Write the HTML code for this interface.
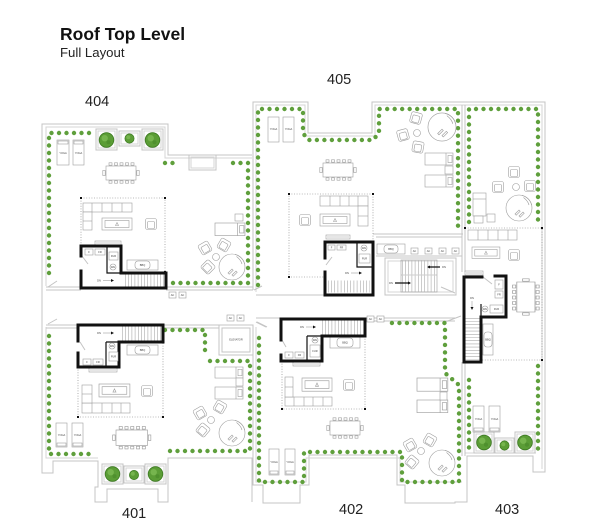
<!DOCTYPE html>
<html><head><meta charset="utf-8"><style>
html,body{margin:0;padding:0;background:#fff;}
svg{display:block}
.d{fill:none;stroke:#5f9f3c;stroke-width:4.4;stroke-linecap:round;stroke-dasharray:0 7.5}
.w{fill:none;stroke:#c4c4c4;stroke-width:1}
.w2{fill:none;stroke:#d4d4d4;stroke-width:1}
.f{fill:#fff;stroke:#9d9d9d;stroke-width:.6}
.fl{fill:none;stroke:#9d9d9d;stroke-width:.6}
.b{fill:none;stroke:#111;stroke-width:3;stroke-linecap:square}
.bt{fill:none;stroke:#111;stroke-width:1.2}
.dot{fill:none;stroke:#777;stroke-width:.6;stroke-dasharray:1 1.6}
.tr{fill:none;stroke:#aaa;stroke-dasharray:.6 2.6}
.t{font-family:"Liberation Sans",sans-serif;fill:#444;font-size:2.6px;text-anchor:middle}
</style></head><body>
<svg width="600" height="532" viewBox="0 0 600 532" xmlns="http://www.w3.org/2000/svg">
<defs>
 <g id="chair"><rect x="-5.5" y="-5.5" width="11" height="11" rx="2" class="f"/><rect x="-3.5" y="-2.5" width="7" height="7" rx="1" class="fl"/></g>
 <g id="tree"><circle r="7.3" fill="#5b9d36" stroke="#3d7a22" stroke-width=".8"/><circle cx="-1.8" cy="-1.8" r="3.2" fill="#82bf58" opacity=".7"/><circle cx="2" cy="2.2" r="2" fill="#4a8a2b" opacity=".7"/></g>
 <g id="stree"><circle r="4.6" fill="#5b9d36" stroke="#3d7a22" stroke-width=".7"/><circle cx="-1.2" cy="-1.2" r="2" fill="#82bf58" opacity=".7"/></g>
 <g id="tub"><circle r="13" class="f" stroke-width=".7"/><path d="M3 -12.6 A13 13 0 0 1 12.6 -3" class="fl"/><path d="M4.5 -10.5 Q9 -7 10 -3" class="fl"/><path d="M-4 6 l4 -4 l1.2 1.2 l-4 4z M0 8 l4 -4 l1.2 1.2 l-4 4z" class="fl"/></g>
 <g id="dine"><rect x="0" y="0" width="30" height="14" class="f"/>
  <g class="f"><rect x="3" y="-3.2" width="3" height="2.4"/><rect x="8.5" y="-3.2" width="3" height="2.4"/><rect x="14" y="-3.2" width="3" height="2.4"/><rect x="19.5" y="-3.2" width="3" height="2.4"/><rect x="25" y="-3.2" width="3" height="2.4"/>
  <rect x="3" y="14.8" width="3" height="2.4"/><rect x="8.5" y="14.8" width="3" height="2.4"/><rect x="14" y="14.8" width="3" height="2.4"/><rect x="19.5" y="14.8" width="3" height="2.4"/><rect x="25" y="14.8" width="3" height="2.4"/>
  <rect x="-3.2" y="4.5" width="2.4" height="5"/><rect x="30.8" y="4.5" width="2.4" height="5"/></g></g>
 <g id="ctab"><rect width="30" height="12" class="f"/><rect x="3" y="2.5" width="24" height="7" class="fl"/><path d="M13.5 7.5 L15 4.5 L16.5 7.5Z" class="fl"/></g>
 <g id="lng"><rect width="28" height="12" class="f"/><line x1="21" y1="0" x2="21" y2="12" class="fl"/><rect x="23" y="2.5" width="4" height="7" class="fl"/></g>
 <g id="ac"><rect width="7" height="6" class="f"/></g>
</defs>

<!-- Titles -->
<text x="60" y="40" font-family="Liberation Sans, sans-serif" font-weight="bold" font-size="17.5" fill="#111">Roof Top Level</text>
<text x="60" y="57" font-family="Liberation Sans, sans-serif" font-size="13.2" fill="#222">Full Layout</text>
<g font-family="Liberation Sans, sans-serif" font-size="14.5" fill="#222">
<text x="85" y="106">404</text>
<text x="327" y="84">405</text>
<text x="122" y="518">401</text>
<text x="339" y="514">402</text>
<text x="495" y="514">403</text>
</g>

<!-- WALLS -->
<path class="w" d="M252 155 H168 V124 H42 V473 H53 V461 H98 V487 H95 V502 H107 V489 H158 V502 H168 V458 H252 V502"/>
<path class="w2" d="M252 158 H165 V127 H46 V286 M46 327 V458 H98"/>
<path class="w" d="M253 290 V102 H308 V133 H372 V102 H545 V472 H533 V456 H467 V502 H455 V503 H405 V485 H397 V455 H309 V485 H300 V503 H263 V485 H253 V325"/>
<path class="w2" d="M256 292 V105 H305 V136 H375 V105 H542 V469 M536 453 H465 M256 327 V482 H306 V458 H400 V482 H462"/>
<path class="w" d="M462 105 V272 M465 105 V228 M462 362 V456 M465 362 V456"/>
<path class="w" d="M46 287 H81 M166 287 H253 M46 290 H81 M166 290 H253"/>
<path class="w" d="M46 325 H78 M163 325 H219 M253 325 H253 M46 328 H78 M163 328 H219"/>
<path class="w" d="M256 295 H325 M256 318 H281 M365 318 H455 M365 321 H455"/>
<path class="w" d="M373 234 H463 M376 237 H462 M376 256 H462 M373 242 V295"/>
<rect x="385" y="258" width="71" height="37" class="w"/>
<rect x="388" y="261" width="65" height="31" class="w2"/>
<path class="w" d="M465 228 V272 M545 228 V472"/>
<!-- door swings -->
<path class="w" d="M48 287 L57 281 M254 290 L262 286 M48 324 L57 319 M257 322 L267 327 M441 287 L455 293 M445 322 L461 316 M483 277 L492 284 M82 256 L88 264 M80 342 L85 350 M326 265 L332 257 M282 340 L286 347 M256 322 L266 327"/>

<!-- window bench 404 -->
<rect x="189" y="155" width="27" height="15" class="w"/>
<rect x="191" y="157" width="23" height="11" class="w2"/>

<!-- GREEN DOTS -->
<path class="d" d="M89 133 H49 V275"/>
<path class="d" d="M165 163 H173"/>
<path class="d" d="M233 163 H248 V283 H172"/>
<path class="d" d="M258 285 V109 H303 V133 L308 140 H373 L379 133 V109 H458 V230"/>
<path class="d" d="M469 222 V109 H538 V227"/>
<path class="d" d="M538 366 V450"/>
<path class="d" d="M469 380 V450"/>
<path class="d" d="M49 336 V454 H95"/>
<path class="d" d="M165 330 H205 V355"/>
<path class="d" d="M210 361 H250 V451 H167"/>
<path class="d" d="M259 338 V482 H304 V452 H395 L402 452 V482 H459 V385 L452 379 L445 373 V323 H390"/>

<!-- PLANTERS -->
<g>
<rect x="96" y="129" width="21" height="21" class="w"/><rect x="98" y="131" width="17" height="17" class="w2"/><use href="#tree" x="106.5" y="140"/>
<rect x="119" y="131" width="21" height="15" class="w"/><rect x="121" y="133" width="17" height="11" class="w2"/><use href="#stree" x="129.5" y="138.5"/>
<rect x="142" y="129" width="21" height="21" class="w"/><rect x="144" y="131" width="17" height="17" class="w2"/><use href="#tree" x="152.5" y="140"/>

<rect x="102" y="464" width="21" height="20" class="w"/><rect x="104" y="466" width="17" height="16" class="w2"/><use href="#tree" x="112.5" y="474"/>
<rect x="124" y="466" width="20" height="17" class="w"/><rect x="126" y="468" width="16" height="13" class="w2"/><use href="#stree" x="134" y="475"/>
<rect x="145" y="464" width="21" height="20" class="w"/><rect x="147" y="466" width="17" height="16" class="w2"/><use href="#tree" x="155.5" y="474"/>

<rect x="474" y="432" width="20" height="21" class="w"/><rect x="476" y="434" width="16" height="17" class="w2"/><use href="#tree" x="484" y="442.5"/>
<rect x="495" y="438" width="19" height="15" class="w"/><rect x="497" y="440" width="15" height="11" class="w2"/><use href="#stree" x="504.5" y="445.5"/>
<rect x="515" y="432" width="20" height="21" class="w"/><rect x="517" y="434" width="16" height="17" class="w2"/><use href="#tree" x="525" y="442.5"/>
</g>

<!-- YOGA MATS -->
<g>
<rect x="57" y="140" width="12" height="25" class="f"/><rect x="58" y="141" width="10" height="3" class="fl"/><text x="63" y="154" class="t">YOGA</text>
<rect x="73" y="140" width="11" height="25" class="f"/><rect x="74" y="141" width="9" height="3" class="fl"/><text x="78.5" y="154" class="t">YOGA</text>
<rect x="56" y="423" width="11" height="24" class="f"/><rect x="57" y="443" width="9" height="3" class="fl"/><text x="61.5" y="436" class="t">YOGA</text>
<rect x="72" y="423" width="11" height="24" class="f"/><rect x="73" y="443" width="9" height="3" class="fl"/><text x="77.5" y="436" class="t">YOGA</text>
<rect x="268" y="117" width="11" height="25" class="f"/><text x="273.5" y="130" class="t">YOGA</text>
<rect x="283" y="117" width="11" height="25" class="f"/><text x="288.5" y="130" class="t">YOGA</text>
<rect x="269" y="449" width="10" height="26" class="f"/><rect x="270" y="471" width="8" height="3" class="fl"/><text x="274" y="463" class="t">YOGA</text>
<rect x="285" y="449" width="10" height="26" class="f"/><rect x="286" y="471" width="8" height="3" class="fl"/><text x="290" y="463" class="t">YOGA</text>
<rect x="473" y="406" width="11" height="26" class="f"/><rect x="474" y="428" width="9" height="3" class="fl"/><text x="478.5" y="420" class="t">YOGA</text>
<rect x="489" y="406" width="11" height="26" class="f"/><rect x="490" y="428" width="9" height="3" class="fl"/><text x="494.5" y="420" class="t">YOGA</text>
</g>

<!-- DINING -->
<use href="#dine" transform="translate(106,166)"/>
<use href="#dine" transform="translate(116,430) scale(1.05,1.1)"/>
<use href="#dine" transform="translate(323,163)"/>
<use href="#dine" transform="translate(330,421)"/>
<use href="#dine" transform="translate(535,282) rotate(90) scale(1,1.3)"/>

<!-- DOTTED LOUNGE ZONES -->
<path class="dot" d="M81 198 H165 V272 M81 198 V246"/>
<path class="dot" d="M78 367 V417 H163 V342"/>
<path class="dot" d="M373 194 H289 V277 H325 M373 194 V242"/>
<path class="dot" d="M282 361 V409 H365 V336"/>
<path class="dot" d="M465 228 H542 V360 H481"/>
<g fill="#111">
<rect x="80" y="197" width="2" height="2"/><rect x="164" y="197" width="2" height="2"/><rect x="164" y="271" width="2" height="2"/>
<rect x="77" y="416" width="2" height="2"/><rect x="162" y="416" width="2" height="2"/>
<rect x="288" y="193" width="2" height="2"/><rect x="372" y="193" width="2" height="2"/><rect x="288" y="276" width="2" height="2"/>
<rect x="281" y="408" width="2" height="2"/><rect x="364" y="408" width="2" height="2"/>
<rect x="541" y="227" width="2" height="2"/><rect x="541" y="359" width="2" height="2"/><rect x="464" y="227" width="2" height="2"/>
</g>

<!-- SOFAS -->
<g>
<rect x="83" y="203" width="49" height="9" class="f"/><path class="fl" d="M92 203 V212 M102 203 V212 M112 203 V212 M122 203 V212"/><rect x="83" y="212" width="9" height="18" class="f"/><path class="fl" d="M83 221 H92"/>
<rect x="82" y="403" width="48" height="10" class="f"/><path class="fl" d="M92 403 V413 M102 403 V413 M112 403 V413 M121 403 V413"/><rect x="82" y="385" width="10" height="18" class="f"/><path class="fl" d="M82 394 H92"/>
<rect x="320" y="196" width="48" height="10" class="f"/><path class="fl" d="M330 196 V206 M340 196 V206 M349 196 V206 M358 196 V206"/><rect x="358" y="206" width="10" height="20" class="f"/><path class="fl" d="M358 216 H368"/>
<rect x="285" y="397" width="47" height="9" class="f"/><path class="fl" d="M294 397 V406 M304 397 V406 M313 397 V406 M323 397 V406"/><rect x="285" y="377" width="8" height="20" class="f"/><path class="fl" d="M285 387 H293"/>
<rect x="468" y="230" width="49" height="10" class="f"/><path class="fl" d="M478 230 V240 M488 230 V240 M498 230 V240 M508 230 V240"/>
</g>

<!-- COFFEE TABLES -->
<use href="#ctab" x="102" y="218"/>
<use href="#ctab" transform="translate(99,384) scale(1.03,1.08)"/>
<use href="#ctab" x="320" y="214"/>
<use href="#ctab" transform="translate(302,378) scale(1,1.1)"/>
<use href="#ctab" transform="translate(472,247) scale(.93,.95)"/>

<!-- ARMCHAIRS -->
<use href="#chair" x="151" y="224"/>
<use href="#chair" x="147" y="391"/>
<use href="#chair" x="305" y="220"/>
<use href="#chair" x="349" y="385"/>
<use href="#chair" x="514" y="255"/>

<!-- LOUNGE SETS + TUBS -->
<use href="#chair" transform="translate(205,248) rotate(-30)"/>
<use href="#chair" transform="translate(224,245) rotate(30)"/>
<use href="#chair" transform="translate(208,267) rotate(45)"/>
<circle cx="216" cy="257" r="3.5" class="f"/>
<use href="#tub" x="232" y="267"/>

<use href="#chair" transform="translate(200,413) rotate(-30)"/>
<use href="#chair" transform="translate(220,407) rotate(30)"/>
<use href="#chair" transform="translate(203,430) rotate(40)"/>
<circle cx="211" cy="420" r="3.5" class="f"/>
<use href="#tub" x="232" y="433"/>

<use href="#chair" transform="translate(416,118) rotate(15)"/>
<use href="#chair" transform="translate(403,135) rotate(-15)"/>
<use href="#chair" transform="translate(418,147) rotate(10)"/>
<circle cx="417" cy="133" r="3.5" class="f"/>
<use href="#tub" transform="translate(442,127) scale(1.08)"/>

<use href="#chair" transform="translate(410,445) rotate(-30)"/>
<use href="#chair" transform="translate(430,440) rotate(30)"/>
<use href="#chair" transform="translate(412,462) rotate(40)"/>
<circle cx="421" cy="451" r="3.5" class="f"/>
<use href="#tub" x="442" y="463"/>

<use href="#chair" x="514" y="172"/>
<use href="#chair" x="498" y="187"/>
<use href="#chair" x="530" y="186"/>
<circle cx="516" cy="187" r="3.5" class="f"/>
<use href="#tub" x="519" y="208"/>

<!-- LOUNGERS -->
<use href="#lng" transform="translate(215,223) scale(1.07,1.05)"/><rect x="235" y="214" width="8" height="7" class="f"/>
<use href="#lng" transform="translate(215,367) scale(1,.92)"/><use href="#lng" transform="translate(215,387)"/><rect x="236" y="378" width="7" height="8" class="f"/>
<use href="#lng" x="425" y="153"/><use href="#lng" x="425" y="175"/><rect x="445" y="166" width="8" height="8" class="f"/>
<use href="#lng" transform="translate(417,378) scale(1.1,1.1)"/><use href="#lng" transform="translate(417,400) scale(1.1,1.05)"/><rect x="440" y="392" width="7" height="8" class="f"/>
<rect x="473" y="193" width="13" height="23" class="f"/><line x1="473" y1="199" x2="486" y2="199" class="fl"/><rect x="474" y="216" width="9" height="7" class="f"/><rect x="487" y="214" width="8" height="8" class="f"/>

<!-- BBQs -->
<g>
<rect x="127" y="260" width="31" height="10" class="f"/><rect x="135" y="261" width="15" height="8" rx="3" class="fl"/><text x="142.5" y="266" class="t">BBQ</text>
<rect x="127" y="345" width="31" height="10" class="f"/><rect x="135" y="346" width="15" height="8" rx="3" class="fl"/><text x="142.5" y="351" class="t">BBQ</text>
<rect x="377" y="244" width="28" height="10" class="f"/><rect x="384" y="245" width="14" height="8" rx="3" class="fl"/><text x="391" y="250" class="t">BBQ</text>
<rect x="330" y="337" width="30" height="11" class="f"/><rect x="337" y="338" width="16" height="9" rx="3" class="fl"/><text x="345" y="343.5" class="t">BBQ</text>
<rect x="483" y="324" width="10" height="31" class="f"/><rect x="484" y="332" width="8" height="15" rx="3" class="fl"/><text x="488" y="340.5" class="t">BBQ</text>
</g>

<!-- BENCHES -->
<g>
<rect x="95" y="241" width="26" height="4" class="f"/><line x1="96" y1="243" x2="120" y2="243" class="fl"/>
<rect x="89" y="368" width="28" height="4" class="f"/><line x1="90" y1="370" x2="116" y2="370" class="fl"/>
<rect x="326" y="235" width="24" height="4" class="f"/><line x1="327" y1="237" x2="349" y2="237" class="fl"/>
<rect x="293" y="362" width="27" height="4" class="f"/><line x1="294" y1="364" x2="319" y2="364" class="fl"/>
<rect x="465" y="271" width="18" height="4" class="f"/><line x1="466" y1="273" x2="482" y2="273" class="fl"/>
</g>

<!-- ELEVATOR -->
<rect x="219" y="325" width="34" height="30" class="w"/>
<rect x="222" y="328" width="28" height="24" class="w"/>
<text x="236" y="340.5" class="t" font-size="2.4">ELEVATOR</text>

<!-- AC BOXES -->
<g>
<use href="#ac" x="169" y="292"/><text x="172.5" y="296" class="t">AC</text>
<use href="#ac" x="179" y="292"/><text x="182.5" y="296" class="t">AC</text>
<use href="#ac" x="227" y="315"/><text x="230.5" y="319" class="t">AC</text>
<use href="#ac" x="237" y="315"/><text x="240.5" y="319" class="t">AC</text>
<use href="#ac" x="367" y="316"/><text x="370.5" y="320" class="t">AC</text>
<use href="#ac" x="377" y="316"/><text x="380.5" y="320" class="t">AC</text>
<use href="#ac" x="411" y="248"/><text x="414.5" y="252" class="t">AC</text>
<use href="#ac" x="425" y="248"/><text x="428.5" y="252" class="t">AC</text>
<use href="#ac" x="439" y="248"/><text x="442.5" y="252" class="t">AC</text>
<use href="#ac" x="452" y="248"/><text x="455.5" y="252" class="t">AC</text>
</g>

<!-- CENTRAL STAIR -->
<rect x="401" y="260" width="36" height="32" class="fl"/>
<line x1="401" y1="275" x2="437" y2="275" class="fl"/>
<line x1="402" y1="267.5" x2="437" y2="267.5" class="tr" stroke-width="14"/>
<line x1="402" y1="283.5" x2="437" y2="283.5" class="tr" stroke-width="16"/>
<path class="bt" d="M428 267 H440 M395 283 H410" stroke-width=".6"/>
<path d="M427 267 l3 -1.5 v3z M411 283 l-3 -1.5 v3z" fill="#111"/>
<text x="444" y="268" class="t">DN</text><text x="391" y="284" class="t">DN</text>

<!-- STAIR CORES (black) -->
<!-- 404 -->
<line x1="125" y1="280.5" x2="165" y2="280.5" class="tr" stroke-width="13"/>
<path class="b" d="M81 256 V246 H121 V273 H166 V288 H81 V271"/>
<path class="bt" d="M107 247 V273 H121"/>
<rect x="85" y="249" width="8" height="6" class="f"/><text x="89" y="253" class="t">F</text>
<rect x="95" y="249" width="10" height="6" class="f"/><text x="100" y="253" class="t">FR</text>
<rect x="109" y="252" width="9" height="8" class="f"/><text x="113.5" y="257" class="t">FUR</text>
<circle cx="113" cy="267" r="3" class="f"/><text x="113" y="268" class="t" font-size="2">WH</text>
<text x="99" y="281.5" class="t">DN</text><path d="M103 280.5 H113" class="fl"/><path d="M114 280.5 l-3 -1.5 v3z" fill="#111"/>
<!-- 401 -->
<line x1="122" y1="333.5" x2="162" y2="333.5" class="tr" stroke-width="15"/>
<path class="b" d="M78 341 V325 H163 V342 H119 V367 H78 V353"/>
<path class="bt" d="M106 342 V367 M106 342 H119"/>
<rect x="83" y="359" width="8" height="6" class="f"/><text x="87" y="363" class="t">F</text>
<rect x="93" y="359" width="10" height="6" class="f"/><text x="98" y="363" class="t">FR</text>
<rect x="109" y="352" width="9" height="9" class="f"/><text x="113.5" y="357.5" class="t">FUR</text>
<circle cx="112" cy="346" r="3" class="f"/><text x="112" y="347" class="t" font-size="2">WH</text>
<text x="99" y="334" class="t">DN</text><path d="M103 333 H113" class="fl"/><path d="M114 333 l-3 -1.5 v3z" fill="#111"/>
<!-- 405 -->
<line x1="328" y1="286.5" x2="370" y2="286.5" class="tr" stroke-width="12"/>
<path class="b" d="M325 258 V242 H373 V295 H325 V272"/>
<path class="bt" d="M357 243 V267 H372" stroke-width=".8"/>
<rect x="328" y="245" width="7" height="5" class="f"/><text x="331.5" y="248.5" class="t">F</text>
<rect x="337" y="245" width="9" height="5" class="f"/><text x="341.5" y="248.5" class="t">FR</text>
<circle cx="364" cy="248" r="3" class="f"/><text x="364" y="249" class="t" font-size="2">WH</text>
<rect x="359" y="254" width="11" height="9" class="f"/><text x="364.5" y="259.5" class="t">FUR</text>
<text x="347" y="274" class="t">DN</text><path d="M351 273 H361" class="fl"/><path d="M362 273 l-3 -1.5 v3z" fill="#111"/>
<!-- 402 -->
<line x1="322" y1="327.5" x2="363" y2="327.5" class="tr" stroke-width="15"/>
<path class="b" d="M281 340 V319 H365 V336 H322 V361 H281 V355"/>
<path class="bt" d="M307 336 V361 M307 336 H322"/>
<rect x="285" y="352" width="8" height="6" class="f"/><text x="289" y="356" class="t">F</text>
<rect x="295" y="352" width="9" height="6" class="f"/><text x="299.5" y="356" class="t">FR</text>
<circle cx="315" cy="340" r="3" class="f"/><text x="315" y="341" class="t" font-size="2">WH</text>
<rect x="310" y="345" width="10" height="12" class="f"/><text x="315" y="352" class="t">FUR</text>
<text x="302" y="328" class="t">DN</text><path d="M306 327 H315" class="fl"/><path d="M316 327 l-3 -1.5 v3z" fill="#111"/>
<!-- 403 -->
<line x1="472.5" y1="318" x2="472.5" y2="360" class="tr" stroke-width="14"/>
<path class="b" d="M482 277 H464 V362 H481 V317 H506 V276 H495"/>
<path class="bt" d="M481 317 V304" stroke-width=".8"/>
<rect x="495" y="280" width="8" height="9" class="f"/><text x="499" y="285.5" class="t">F</text>
<rect x="495" y="291" width="8" height="7" class="f"/><text x="499" y="295.5" class="t">FR</text>
<circle cx="485" cy="309" r="3" class="f"/><text x="485" y="310" class="t" font-size="2">WH</text>
<rect x="490" y="305" width="13" height="8" class="f"/><text x="496.5" y="310" class="t">FUR</text>
<text x="472" y="299" class="t">DN</text><path d="M472 301 V309" class="fl"/><path d="M472 310 l-1.5 -3 h3z" fill="#111"/>
</svg>
</body></html>
